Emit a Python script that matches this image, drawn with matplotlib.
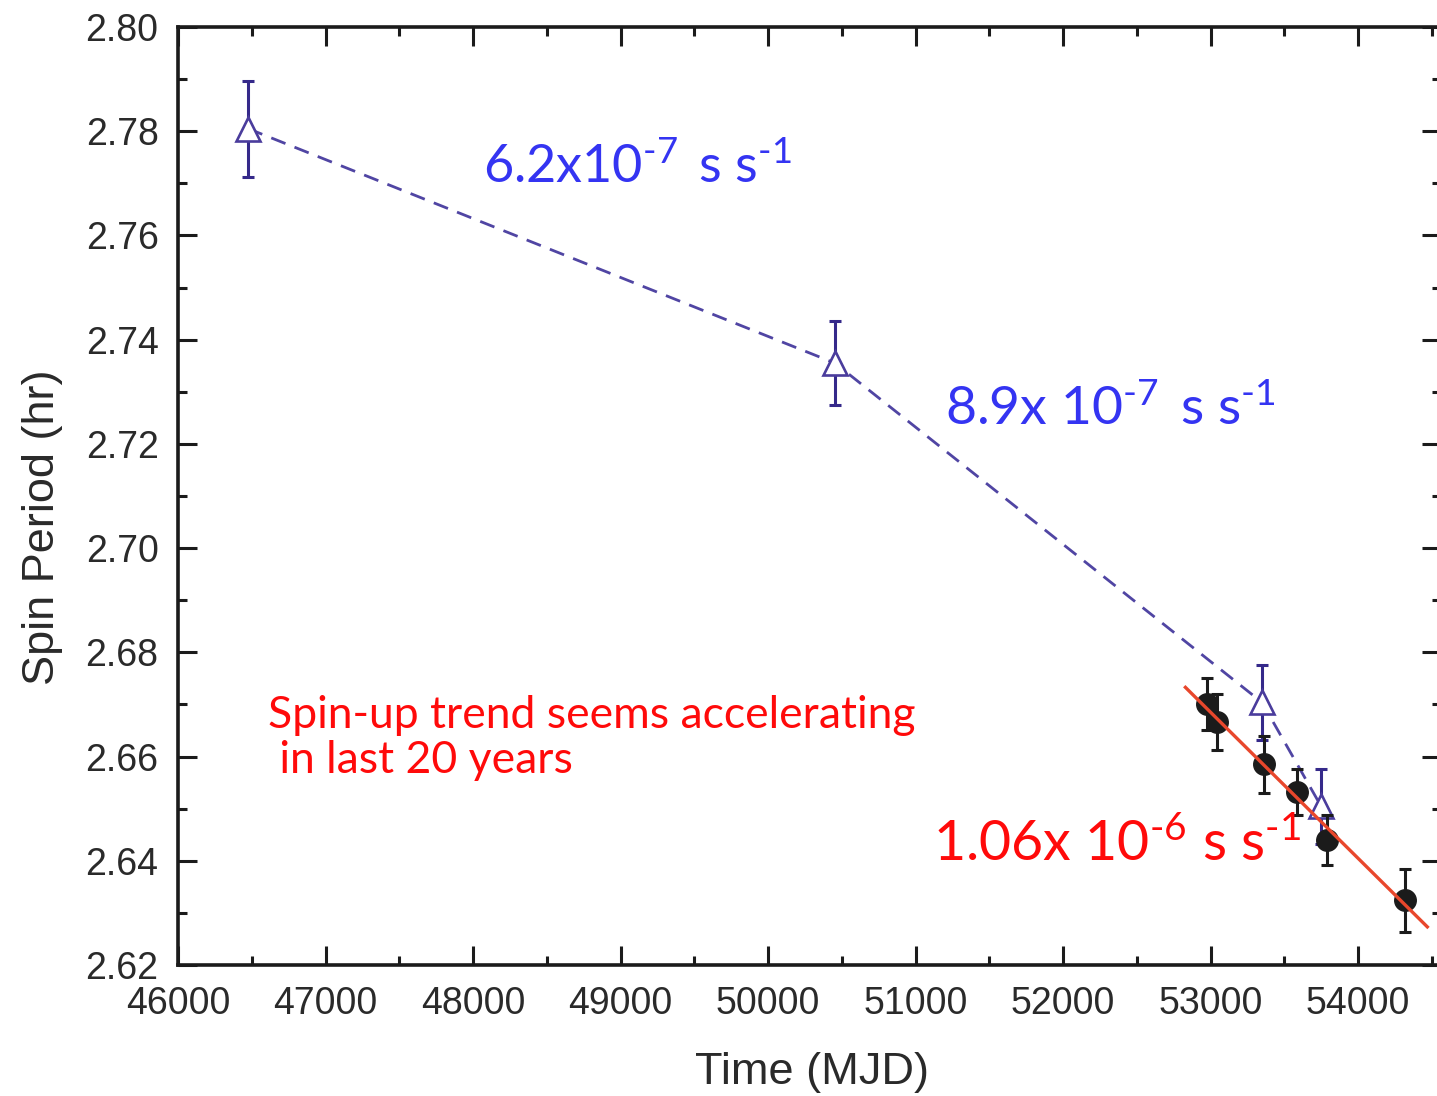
import numpy as np
import matplotlib
matplotlib.use("Agg")
import matplotlib.pyplot as plt
from matplotlib.ticker import MultipleLocator, FormatStrFormatter

# Spin period measurements (MJD, hours)
tri_mjd = [46475, 50454, 53349, 53749]
tri_period = [2.7805, 2.7355, 2.6704, 2.6505]
tri_err = [0.0092, 0.0081, 0.0072, 0.0072]

dot_mjd = [52976, 53044, 53360, 53587, 53790, 54322]
dot_period = [2.6701, 2.6666, 2.6585, 2.6532, 2.6440, 2.6324]
dot_err = [0.0050, 0.0054, 0.0054, 0.0044, 0.0048, 0.0060]

fit_range = [52830, 54470]

x_ticks = [46000, 47000, 48000, 49000, 50000, 51000, 52000, 53000, 54000]
y_ticks = [2.62, 2.64, 2.66, 2.68, 2.70, 2.72, 2.74, 2.76, 2.78, 2.80]

rate_labels = [r"6.2x10$^{\text{-}7}\,$ s s$^{\text{-}1}$",
               r"8.9x 10$^{\text{-}7}\,$ s s$^{\text{-}1}$"]
fit_label = r"1.06x 10$^{\text{-}6}$ s s$^{\text{-}1}$"
note_lines = ["Spin-up trend seems accelerating", " in last 20 years"]

plt.rcParams["mathtext.fontset"] = "custom"
plt.rcParams["mathtext.rm"] = "Lato"
plt.rcParams["mathtext.it"] = "Lato:italic"
plt.rcParams["mathtext.bf"] = "Lato:bold"
plt.rcParams["mathtext.default"] = "regular"

W, H = 1437, 1096
fig = plt.figure(figsize=(W / 100, H / 100), dpi=100)

xmin, xmax = 46000, 54560
ymin, ymax = 2.62, 2.80
px_per_mjd = 0.1475
left_px, top_px, bottom_px = 178, 27, 965
ax = fig.add_axes([left_px / W, 1 - bottom_px / H,
                   (xmax - xmin) * px_per_mjd / W, (bottom_px - top_px) / H])
ax.set_xlim(xmin, xmax)
ax.set_ylim(ymin, ymax)

def px(x, y):
    return x / W, 1 - y / H

blue = "#35298a"
dark = "#1b1b1b"

# Dashed guide through the triangle measurements
ax.plot(tri_mjd, tri_period, color="#5045a3", lw=2.0, dashes=(5.5, 3.5), zorder=2)

ax.errorbar(tri_mjd, tri_period, yerr=tri_err, fmt="none", ecolor=blue,
            elinewidth=2.2, capsize=4, capthick=2.2, zorder=3)
ax.plot(tri_mjd, tri_period, linestyle="none", marker="^", markersize=17,
        markerfacecolor="white", markeredgecolor="#4a3c9c", markeredgewidth=1.9,
        zorder=4)

ax.errorbar(dot_mjd, dot_period, yerr=dot_err, fmt="none", ecolor=dark,
            elinewidth=2.2, capsize=4, capthick=2.2, zorder=5)
ax.plot(dot_mjd, dot_period, linestyle="none", marker="o", markersize=15.5,
        markerfacecolor=dark, markeredgecolor=dark, zorder=6)

# Linear fit to the recent measurements
coef = np.polyfit(dot_mjd, dot_period, 1)
fx = np.array(fit_range, dtype=float)
ax.plot(fx, np.polyval(coef, fx), color="#e8472c", lw=2.4, zorder=7)

# Axes styling
for s in ax.spines.values():
    s.set_linewidth(2.6)
    s.set_color(dark)
ax.xaxis.set_major_locator(MultipleLocator(1000))
ax.xaxis.set_minor_locator(MultipleLocator(500))
ax.yaxis.set_major_locator(MultipleLocator(0.02))
ax.yaxis.set_minor_locator(MultipleLocator(0.01))
ax.set_xticks(x_ticks)
ax.set_yticks(y_ticks)
ax.yaxis.set_major_formatter(FormatStrFormatter("%.2f"))
ax.tick_params(which="both", direction="in", top=True, right=True,
               width=2.2, color=dark)
ax.tick_params(which="major", length=14)
ax.tick_params(which="minor", length=6.5)
ax.tick_params(axis="x", which="major", pad=15)
ax.tick_params(axis="y", which="major", pad=14)
for lab in ax.get_xticklabels() + ax.get_yticklabels():
    lab.set_fontfamily("Liberation Sans")
    lab.set_fontsize(27)
    lab.set_color("#2a2a2a")

ax.set_xlabel("Time (MJD)", fontfamily="Liberation Sans", fontsize=32.5,
              color="#2a2a2a")
ax.set_ylabel("Spin Period (hr)", fontfamily="Liberation Sans", fontsize=32.5,
              color="#2a2a2a")
ax.xaxis.set_label_coords((812 - left_px) / ((xmax - xmin) * px_per_mjd),
                          (bottom_px - 1052) / (bottom_px - top_px))
ax.yaxis.set_label_coords((63 - left_px) / ((xmax - xmin) * px_per_mjd),
                          (bottom_px - 527) / (bottom_px - top_px))

# Annotations
txt_blue = "#3434f2"
txt_red = "#ff0a0a"
fig.text(*px(483, 183), rate_labels[0], fontfamily="Lato", fontsize=37.5,
         color=txt_blue, ha="left", va="baseline")
fig.text(*px(945, 425), rate_labels[1], fontfamily="Lato", fontsize=38.5,
         color=txt_blue, ha="left", va="baseline")
fig.text(*px(268, 728), note_lines[0], fontfamily="Lato", fontsize=32,
         color=txt_red, ha="left", va="baseline")
fig.text(*px(268, 773), note_lines[1], fontfamily="Lato", fontsize=32,
         color=txt_red, ha="left", va="baseline")
fig.text(*px(933, 861), fit_label, fontfamily="Lato", fontsize=40,
         color=txt_red, ha="left", va="baseline")

fig.savefig("out.png", dpi=100, facecolor="white")
